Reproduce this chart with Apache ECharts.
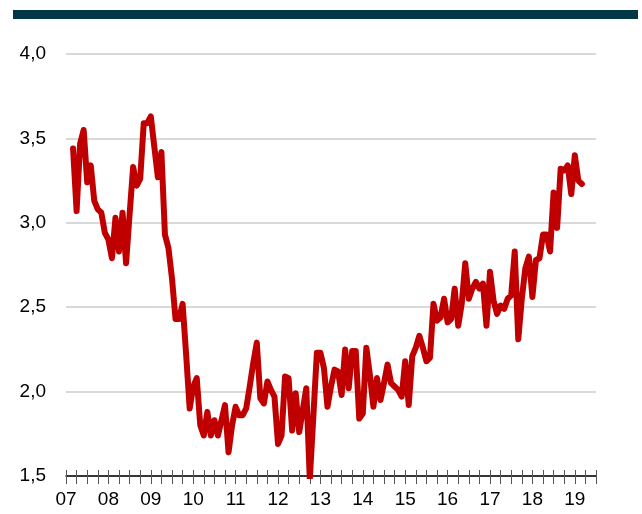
<!DOCTYPE html>
<html>
<head>
<meta charset="utf-8">
<script src="https://cdn.jsdelivr.net/npm/echarts@6/dist/echarts.min.js"></script>
<style>
  html, body { margin: 0; padding: 0; background: #fff; }
  #chart { width: 642px; height: 514px; }
</style>
</head>
<body>
<div id="chart"></div>
<script>
// monthly values, first point = March 2007 (month index 2, Jan 2007 = 0)
var firstMonth = 2;
var yearLabels = ['07', '08', '09', '10', '11', '12', '13', '14', '15', '16', '17', '18', '19'];
var values = [
    3.44, 3.07, 3.47, 3.55, 3.24, 3.34, 3.13, 3.08, 3.06, 2.94,           // 2007
    2.90, 2.79, 3.03, 2.83, 3.06, 2.76, 3.05, 3.33, 3.22, 3.26, 3.59, 3.59, // 2008
    3.63, 3.45, 3.27, 3.42, 2.93, 2.85, 2.67, 2.43, 2.43, 2.52, 2.22, 1.90, // 2009
    2.03, 2.08, 1.80, 1.74, 1.88, 1.74, 1.83, 1.74, 1.83, 1.92, 1.64, 1.80, // 2010
    1.91, 1.86, 1.86, 1.90, 2.03, 2.17, 2.29, 1.96, 1.93, 2.06, 2.01, 1.97, // 2011
    1.69, 1.74, 2.09, 2.08, 1.77, 1.99, 1.76, 1.89, 2.02, 1.48, 1.85, 2.23, // 2012
    2.23, 2.14, 1.91, 2.03, 2.13, 2.12, 1.98, 2.25, 2.02, 2.24, 2.24, 1.84, // 2013
    1.87, 2.26, 2.10, 1.91, 2.08, 1.95, 2.05, 2.16, 2.05, 2.03, 2.01, 1.97, // 2014
    2.18, 1.92, 2.21, 2.26, 2.33, 2.26, 2.18, 2.20, 2.52, 2.42, 2.44, 2.55, // 2015
    2.41, 2.43, 2.61, 2.39, 2.52, 2.76, 2.55, 2.61, 2.65, 2.61, 2.64, 2.39, // 2016
    2.71, 2.54, 2.46, 2.51, 2.49, 2.55, 2.57, 2.83, 2.31, 2.55, 2.73, 2.80, // 2017
    2.56, 2.78, 2.79, 2.93, 2.93, 2.83, 3.18, 2.97, 3.32, 3.31, 3.34, 3.17, // 2018
    3.40, 3.25, 3.23                                                      // 2019
];

var seriesData = values.map(function (v, i) {
    return [firstMonth + i, v];
});

var xCommon = {
    type: 'value',
    position: 'bottom',
    min: 0,
    max: 150,
    interval: 3,
    splitLine: { show: false }
};

var option = {
    animation: false,
    backgroundColor: '#fff',
    graphic: [{
        type: 'rect',
        shape: { x: 13, y: 10, width: 625, height: 9 },
        style: { fill: '#043745' }
    }],
    grid: { left: 66, right: 46, top: 54, bottom: 38 },
    xAxis: [
        Object.assign({}, xCommon, {
            axisLine: { show: true, onZero: false, lineStyle: { color: '#000', width: 1.5 } },
            axisTick: { show: true, inside: false, length: 8, lineStyle: { color: '#555', width: 1 } },
            axisLabel: {
                margin: 14,
                fontFamily: 'Liberation Sans, Arial',
                fontSize: 19,
                color: '#000',
                showMinLabel: true,
                showMaxLabel: true,
                formatter: function (v) {
                    return v % 12 === 0 ? yearLabels[v / 12] : '';
                }
            }
        }),
        Object.assign({}, xCommon, {
            axisLine: { show: false },
            axisTick: { show: true, inside: true, length: 6, lineStyle: { color: '#555', width: 1 } },
            axisLabel: { show: false }
        })
    ],
    yAxis: {
        type: 'value',
        min: 1.5,
        max: 4.0,
        interval: 0.5,
        axisLine: { show: false },
        axisTick: { show: false },
        splitLine: {
            show: true,
            lineStyle: { color: '#d9d9d9', width: 2 }
        },
        axisLabel: {
            margin: 20,
            fontFamily: 'Liberation Sans, Arial',
            fontSize: 19,
            color: '#000',
            formatter: function (v) {
                return v.toFixed(1).replace('.', ',');
            }
        }
    },
    series: [{
        type: 'line',
        data: seriesData,
        showSymbol: false,
        smooth: false,
        lineStyle: { color: '#c00000', width: 6, cap: 'round', join: 'round' },
        z: 3
    }]
};

var myChart = echarts.init(document.getElementById('chart'));
myChart.setOption(option);
</script>
</body>
</html>
